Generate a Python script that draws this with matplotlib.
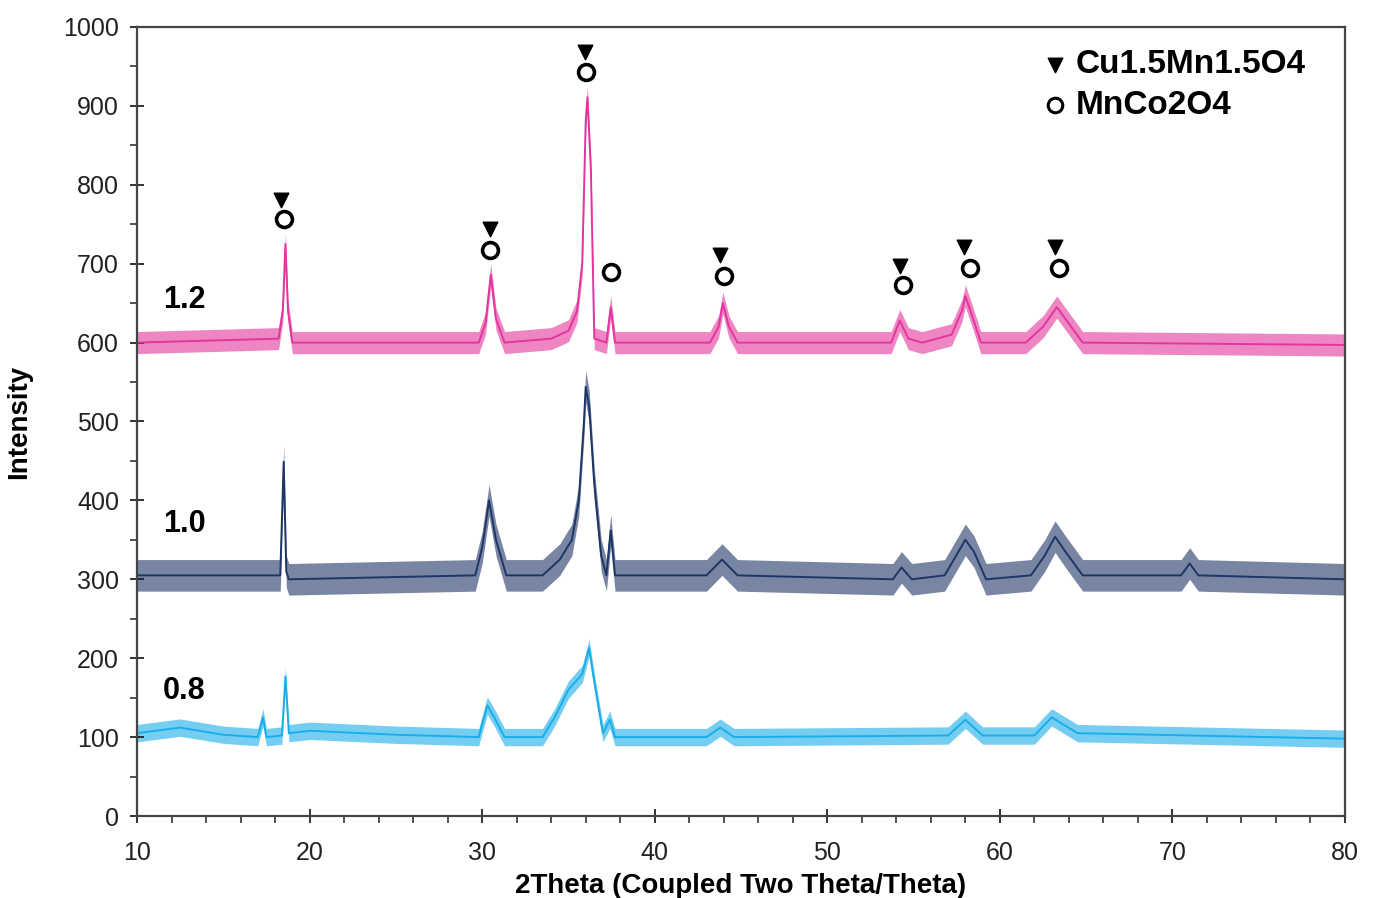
import matplotlib
matplotlib.use("Agg")
import matplotlib.pyplot as plt
import matplotlib.ticker as mticker

plt.rcParams["font.family"] = ["Liberation Sans", "DejaVu Sans"]

# ---- data (2theta in deg, intensity in a.u.) ----
x_12 = [10, 18.2, 18.45, 18.6, 18.75, 19.0, 29.8, 30.2, 30.5, 30.8, 31.3, 34.0, 35.0, 35.5,
        35.8, 36.0, 36.1, 36.3, 36.5, 37.2, 37.45, 37.7, 43.2, 43.7, 43.95, 44.3, 44.8, 53.7,
        54.2, 54.7, 55.5, 57.2, 57.8, 58.0, 58.3, 58.9, 61.5, 62.5, 63.3, 63.8, 64.8, 80]
y_12 = [600, 605, 640, 725, 640, 600, 600, 625, 686, 630, 600, 605, 615, 640,
        700, 880, 911, 820, 605, 600, 645, 600, 600, 620, 650, 620, 600, 600,
        628, 605, 600, 610, 640, 659, 640, 600, 600, 620, 645, 630, 600, 597]

x_10 = [10, 18.3, 18.5, 18.65, 18.8, 29.6, 30.0, 30.4, 30.8, 31.4, 33.5, 34.5, 35.2, 35.6,
        35.9, 36.0, 36.2, 36.5, 36.9, 37.2, 37.45, 37.7, 43.0, 43.9, 44.8, 53.8, 54.3, 54.9,
        56.8, 57.6, 58.0, 58.5, 59.2, 61.8, 62.6, 63.2, 63.8, 64.8, 70.5, 71.0, 71.5, 80]
y_10 = [305, 305, 449, 310, 300, 305, 340, 400, 350, 305, 305, 325, 350, 400,
        500, 544, 520, 420, 330, 305, 362, 305, 305, 325, 305, 300, 315, 300,
        305, 335, 350, 335, 300, 305, 330, 354, 335, 305, 305, 320, 305, 300]

x_08 = [10, 12.5, 15, 17.0, 17.3, 17.5, 18.4, 18.6, 18.8, 20, 25, 29.8, 30.3, 30.7, 31.3,
        33.5, 34.2, 35.0, 35.8, 36.2, 36.5, 37.0, 37.4, 37.7, 43.0, 43.8, 44.6, 57.0, 58.0,
        59.0, 62.0, 63.0, 64.5, 80]
y_08 = [105, 112, 103, 100, 125, 100, 102, 177, 105, 108, 103, 100, 140, 125, 100,
        100, 125, 160, 180, 213, 170, 105, 122, 100, 100, 112, 100, 102, 122,
        102, 102, 125, 105, 98]

# visible noise half-width of each trace
noise_12, noise_10, noise_08 = 14, 20, 11

# phase markers
tri_x = [18.35, 30.45, 35.95, 43.8, 54.2, 57.95, 63.2]
tri_y = [781, 744, 968, 711, 697, 721, 721]
circ_x = [18.5, 30.45, 36.0, 37.45, 44.0, 54.4, 58.25, 63.4]
circ_y = [757, 717, 943, 689, 684, 673, 695, 695]

series = [("1.2", x_12, y_12, noise_12, "#E3359E", 654),
          ("1.0", x_10, y_10, noise_10, "#1F3566", 370),
          ("0.8", x_08, y_08, noise_08, "#19AEEA", 158)]

fig = plt.figure(figsize=(13.73, 8.98), dpi=100)
ax = fig.add_axes([137 / 1373, 1 - 816 / 898, 1208 / 1373, 789 / 898])

for label, xs, ys, amp, col, ly in series:
    lo = [v - amp for v in ys]
    hi = [v + amp for v in ys]
    ax.fill_between(xs, lo, hi, color=col, alpha=0.6, linewidth=0)
    ax.plot(xs, ys, color=col, linewidth=1.4)
    ax.text(11.5, ly, label, fontsize=22, fontweight="bold", va="center", ha="left")

ax.scatter(tri_x, tri_y, marker="v", s=110, color="black", zorder=5)
ax.scatter(circ_x, circ_y, marker="o", s=130, facecolor="white", edgecolor="black",
           linewidth=2.6, zorder=5)

# legend drawn as marker + text
ax.scatter([63.2], [952], marker="v", s=110, color="black")
ax.scatter([63.2], [901], marker="o", s=110, facecolor="white", edgecolor="black", linewidth=2.2)
ax.text(64.4, 952, "Cu1.5Mn1.5O4", fontsize=24, fontweight="bold", va="center", ha="left")
ax.text(64.4, 901, "MnCo2O4", fontsize=24, fontweight="bold", va="center", ha="left")

ax.set_xlim(10, 80)
ax.set_ylim(0, 1000)
ax.xaxis.set_major_locator(mticker.MultipleLocator(10))
ax.xaxis.set_minor_locator(mticker.MultipleLocator(2))
ax.yaxis.set_major_locator(mticker.MultipleLocator(100))
ax.yaxis.set_minor_locator(mticker.MultipleLocator(50))
ax.tick_params(axis="both", which="major", direction="inout", length=10, width=1.3,
               labelsize=18, colors="#222222")
ax.tick_params(axis="both", which="minor", direction="out", length=5, width=1.2, colors="#333333")
ax.tick_params(axis="x", pad=13)
ax.tick_params(axis="y", pad=8)
for s in ax.spines.values():
    s.set_color("#444444")
    s.set_linewidth(1.6)

ax.set_xlabel("2Theta (Coupled Two Theta/Theta)", fontsize=20, fontweight="bold", labelpad=6)
ax.set_ylabel("Intensity", fontsize=20, fontweight="bold", labelpad=22)

fig.savefig("out.png", dpi=100)
